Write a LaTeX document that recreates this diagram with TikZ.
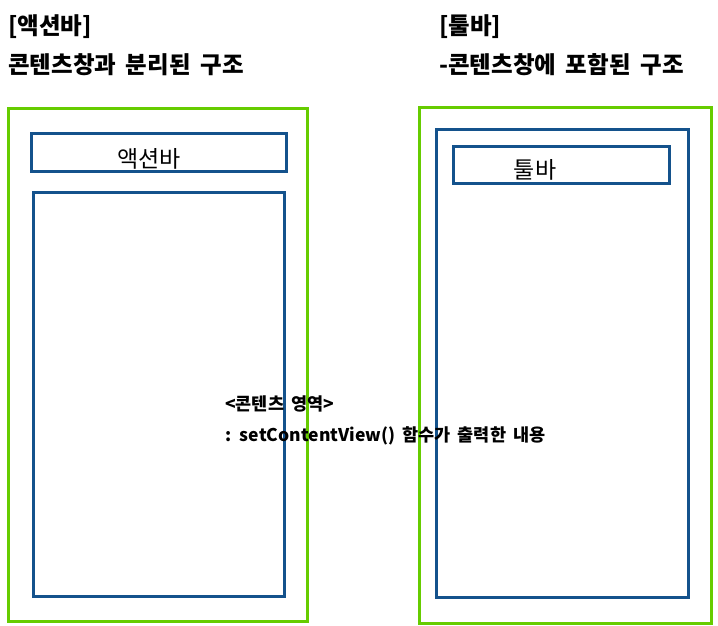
\documentclass[tikz,border=0pt]{standalone}
\usepackage{fontspec}
\setmainfont{Noto Sans CJK KR}[WordSpace=1.8]
\usepackage{tikz}
\usetikzlibrary{positioning}
\definecolor{framegreen}{RGB}{102,204,0}
\definecolor{viewblue}{RGB}{20,82,140}
\tikzset{
  screen/.style={rectangle, draw=framegreen, line width=2.5pt, anchor=north west, inner sep=0pt},
  viewbox/.style={rectangle, draw=viewblue, line width=2.5pt, anchor=north west, inner sep=0pt},
  barlabel/.style={font=\fontsize{23}{26}\selectfont, inner sep=0pt},
  title/.style={font=\fontsize{23.5}{26}\selectfont\bfseries, anchor=west, inner sep=0pt},
  note/.style={font=\fontsize{17.5}{21}\selectfont\bfseries, anchor=west, inner sep=0pt},
}

\begin{document}
\begin{tikzpicture}[x=1pt, y=-1pt]
  \useasboundingbox (0,0) rectangle (718,625);
  % action bar side
  \node[title] (abhead) at (8,27) {[액션바]};
  \node[title] (abtitle) at (8,65) {콘텐츠창과 분리된 구조};
  \node[screen, minimum width=299pt, minimum height=513pt] (abscreen) at (7,107) {};
  \node[viewbox, minimum width=255pt, minimum height=38pt] (actionbar) at (30,132) {};
  \node[viewbox, minimum width=251pt, minimum height=404pt] (abcontent) at (32,191) {};
  \node[barlabel] (ablabel) at (149,159) {액션바};
  
  % toolbar side
  \node[title] (tbhead) at (439,27) {[툴바]};
  \node[title] (tbtitle) at (439,65) {-콘텐츠창에 포함된 구조};
  \node[screen, minimum width=292pt, minimum height=516pt] (tbscreen) at (418,106) {};
  \node[viewbox, minimum width=252pt, minimum height=468pt] (tbcontent) at (435,128) {};
  \node[viewbox, minimum width=216pt, minimum height=37pt] (toolbar) at (452,145) {};
  \node[barlabel] (tblabel) at (535,170) {툴바};
  
  % content area note
  \node[note] (area) at (225,404) {<콘텐츠 영역>};
  \node[note] (areadesc) at (225,436) {: setContentView() 함수가 출력한 내용};
\end{tikzpicture}
\end{document}
